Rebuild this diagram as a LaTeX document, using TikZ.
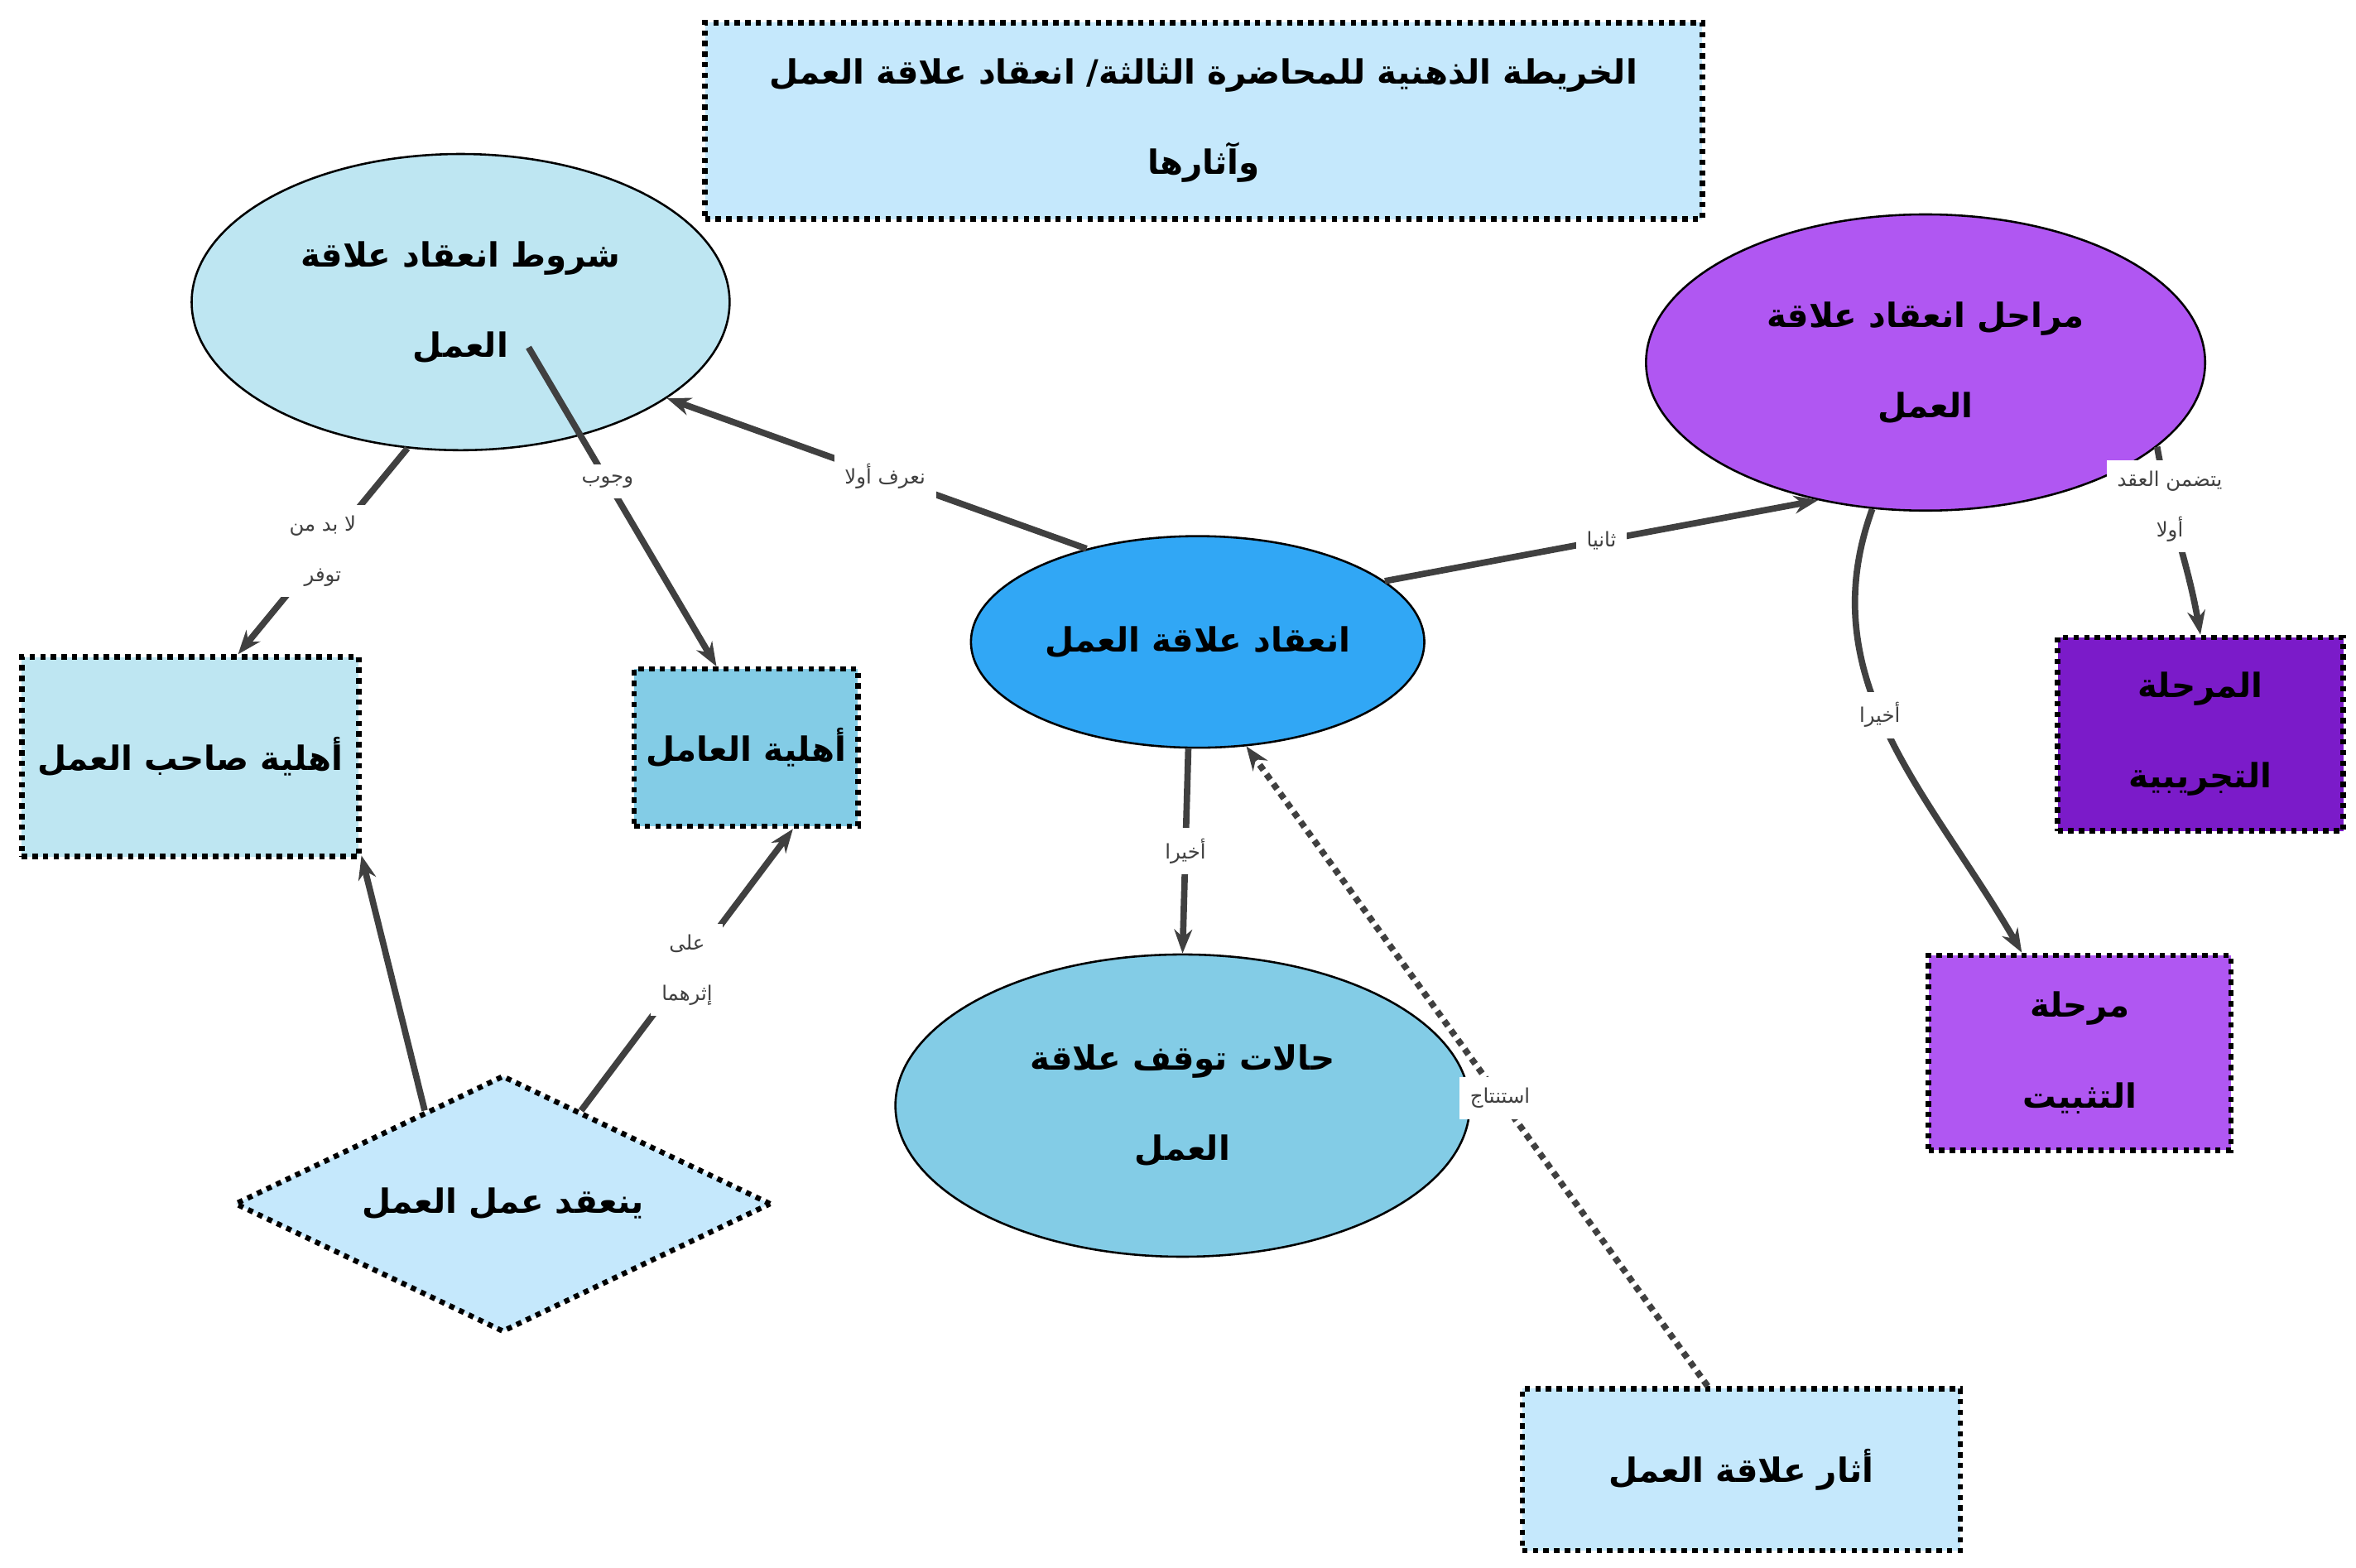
\documentclass[tikz,border=0pt]{standalone}
\usepackage{fontspec}
\newfontfamily\arabicfont[Script=Arabic]{DejaVu Sans}
\TeXXeTstate=1
\usetikzlibrary{shapes.geometric,arrows.meta}
\newcommand{\ar}[1]{\beginR #1\endR}
\definecolor{paleblue}{HTML}{C5E8FC}
\definecolor{iceblue}{HTML}{BEE6F2}
\definecolor{skyblue}{HTML}{83CCE6}
\definecolor{midblue}{HTML}{31A7F5}
\definecolor{lilac}{HTML}{B057F2}
\definecolor{grape}{HTML}{7B1BC9}
\definecolor{linkgray}{HTML}{404040}
\tikzset{
  boxnode/.style={draw, densely dotted, line width=1pt, inner sep=0pt, align=center, font=\arabicfont\bfseries\fontsize{6.3}{17}\selectfont},
  ellnode/.style={ellipse, draw, thin, inner sep=0pt, align=center, font=\arabicfont\bfseries\fontsize{6.3}{17}\selectfont},
  link/.style={linkgray, line width=1.2pt, -{Stealth[length=4.5pt]}},
  linklabel/.style={fill=white, inner sep=2pt, text=linkgray, align=center, font=\arabicfont\fontsize{3.8}{9.5}\selectfont},
}
\begin{document}
\begin{tikzpicture}[x=0.01cm,y=-0.01cm]
\useasboundingbox (0,0) rectangle (1560,1038);
%
% nodes
\node[boxnode, fill=paleblue, minimum width=6.6cm, minimum height=1.3cm] (title) at (797,80)
  {\ar{الخريطة الذهنية للمحاضرة الثالثة/ انعقاد علاقة العمل}\\\ar{وآثارها}};
\node[ellnode, fill=iceblue, minimum width=3.56cm, minimum height=1.96cm] (shorut) at (305,200)
  {\ar{شروط انعقاد علاقة}\\\ar{العمل}};
\node[ellnode, fill=lilac, minimum width=3.7cm, minimum height=1.96cm] (marahil) at (1275,240)
  {\ar{مراحل انعقاد علاقة}\\\ar{العمل}};
\node[ellnode, fill=midblue, minimum width=3cm, minimum height=1.4cm] (inaqad) at (793,425)
  {\ar{انعقاد علاقة العمل}};
\node[ellnode, fill=skyblue, minimum width=3.8cm, minimum height=2cm] (halat) at (783,732)
  {\ar{حالات توقف علاقة}\\\ar{العمل}};
\node[boxnode, fill=iceblue, minimum width=2.23cm, minimum height=1.32cm] (sahib) at (126,501)
  {\ar{أهلية صاحب العمل}};
\node[boxnode, fill=skyblue, minimum width=1.48cm, minimum height=1.04cm] (amil) at (494,495)
  {\ar{أهلية العامل}};
\node[boxnode, diamond, aspect=2.1, fill=paleblue, minimum width=3.55cm, minimum height=1.7cm] (yanaqid) at (333,797)
  {\ar{ينعقد عمل العمل}};
\node[boxnode, fill=grape, minimum width=1.89cm, minimum height=1.28cm] (tajriba) at (1457,486)
  {\ar{المرحلة}\\\ar{التجريبية}};
\node[boxnode, fill=lilac, minimum width=2cm, minimum height=1.29cm] (tathbit) at (1377,697)
  {\ar{مرحلة}\\\ar{التثبيت}};
\node[boxnode, fill=paleblue, minimum width=2.9cm, minimum height=1.07cm] (athar) at (1153,973)
  {\ar{أثار علاقة العمل}};
%
% connectors
\draw[link] (inaqad.140) -- node[linklabel, pos=0.48]{\ar{نعرف أولا}} (shorut.-25);
\draw[link] (inaqad.18) -- node[linklabel]{\ar{ثانيا}} (marahil.-128);
\draw[link] (marahil.-20) to[out=-80, in=100] node[linklabel, pos=0.3]{\ar{يتضمن العقد}\\\ar{أولا}} (tajriba.north);
\draw[link] (marahil.-110) to[out=-110, in=120] node[linklabel, pos=0.45]{\ar{أخيرا}} (tathbit.120);
\draw[link] (inaqad.-95) -- node[linklabel]{\ar{أخيرا}} (halat.north);
\draw[link, densely dotted] (athar.112) -- node[linklabel, pos=0.45]{\ar{استنتاج}} (inaqad.-65);
\draw[link] (shorut.-110) -- node[linklabel]{\ar{لا بد من}\\\ar{توفر}} (sahib.65);
\draw[link] (shorut.center)++(45,30) -- node[linklabel, pos=0.42]{\ar{وجوب}} (amil.110);
\draw[link] (yanaqid.130) -- (sahib.-30);
\draw[link] (yanaqid.50) -- node[linklabel]{\ar{على}\\\ar{إثرهما}} (amil.-60);
\end{tikzpicture}
\end{document}
